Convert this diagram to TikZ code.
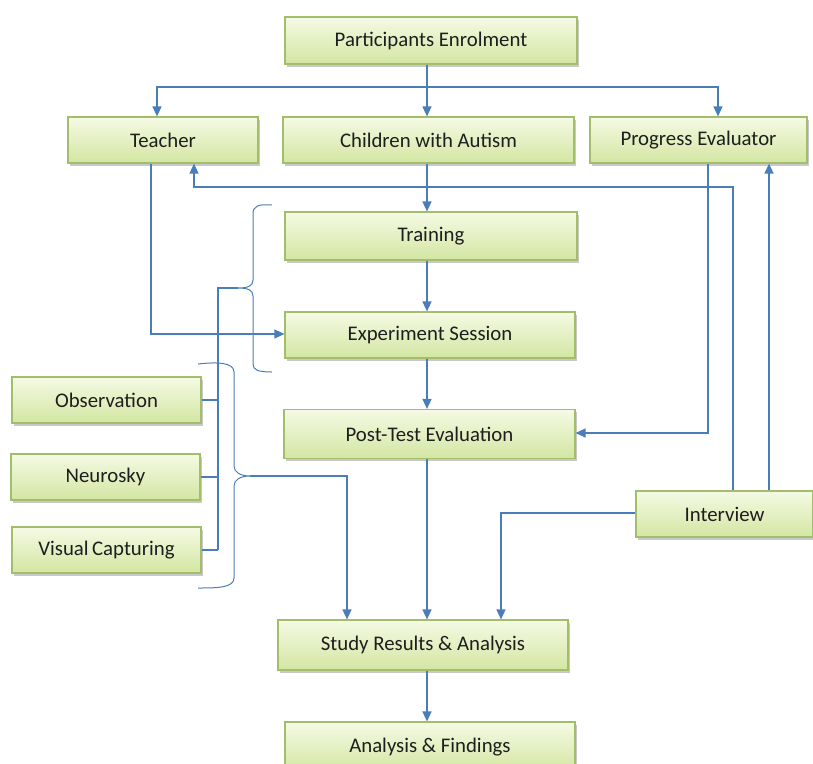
\documentclass[tikz,border=0pt]{standalone}
\usepackage{fontspec}
\setmainfont{Carlito}
\usetikzlibrary{arrows.meta,shadows,calc}
\definecolor{boxtop}{HTML}{F5FAE4}
\definecolor{boxbot}{HTML}{D3E6A2}
\definecolor{boxdraw}{HTML}{A2BE6A}
\definecolor{lineblue}{HTML}{4A7EBB}
\definecolor{txt}{HTML}{1E1E1E}
\begin{document}
\begin{tikzpicture}[x=1pt,y=-1pt,
  bx/.style={draw=boxdraw,line width=1.2pt,top color=boxtop,bottom color=boxbot,
    text=txt,font=\fontsize{20.8}{23}\selectfont,inner sep=0pt,
    drop shadow={shadow xshift=2pt,shadow yshift=-2.5pt,opacity=0.35,fill=black!60}},
  ln/.style={draw=lineblue,line width=1.4pt},
  arr/.style={ln,-{Triangle[length=10pt,width=9pt]}},
  brace/.style={draw=lineblue,line width=1pt}]
\useasboundingbox (0,0) rectangle (813,763);
\fill[white] (0,0) rectangle (813,763);
% boxes
\node[bx,minimum width=292pt,minimum height=47pt] (pe) at (431,40.5) {Participants Enrolment};
\node[bx,minimum width=190pt,minimum height=46pt] (tch) at (163,140) {Teacher};
\node[bx,minimum width=291pt,minimum height=46pt] (ch) at (428.5,140) {Children with Autism};
\node[bx,minimum width=217pt,minimum height=46pt] (pv) at (698.5,140) {Progress Evaluator};
\node[bx,minimum width=292pt,minimum height=48pt] (tr) at (431,236) {Training};
\node[bx,minimum width=290pt,minimum height=46pt] (ex) at (430,335) {Experiment Session};
\node[bx,minimum width=291pt,minimum height=49pt] (pt) at (429.5,434) {Post-Test Evaluation};
\node[bx,minimum width=189pt,minimum height=46pt] (ob) at (106.5,400) {Observation};
\node[bx,minimum width=189pt,minimum height=46pt] (nr) at (105.5,477) {Neurosky};
\node[bx,minimum width=189pt,minimum height=46pt] (vc) at (106.5,550) {Visual\,Capturing};
\node[bx,minimum width=177pt,minimum height=46pt] (iv) at (724.5,514) {Interview};
\node[bx,minimum width=290pt,minimum height=50pt] (sr) at (423,645) {Study Results \& Analysis};
\node[bx,minimum width=290pt,minimum height=50pt] (af) at (430,747) {Analysis \& Findings};
% coordinates
\coordinate (cx) at (427,0);
\coordinate (split) at (427,87);
\coordinate (tin) at (151,334);
\coordinate (pvc) at (708,433);
\coordinate (ivt) at (733,187);
\coordinate (ivl) at (501,513);
\coordinate (vline) at (218,288);
\coordinate (b2) at (347,476);
% central flow
\draw[ln] (pe.south -| cx) -- (split);
\draw[arr] (split) -| ([xshift=-6pt]tch.north);
\draw[arr] (split) -- (ch.north -| cx);
\draw[arr] (split) -| ([xshift=19.5pt]pv.north);
\draw[arr] (ch.south -| cx) -- (tr.north -| cx);
\draw[arr] (tr.south -| cx) -- (ex.north -| cx);
\draw[arr] (ex.south -| cx) -- (pt.north -| cx);
\draw[arr] (pt.south -| cx) -- (sr.north -| cx);
\draw[arr] (sr.south -| cx) -- (af.north -| cx);
% side flows
\draw[arr] (tch.south -| tin) -- (tin) -- (ex.west |- tin);
\draw[arr] (pv.south -| pvc) -- (pvc) -- (pt.east |- pvc);
\draw[arr] (iv.north -| ivt) -- (ivt) -| ([xshift=31pt]tch.south);
\draw[arr] (iv.north -| 769,0) -- (pv.south -| 769,0);
\draw[arr] (iv.west |- ivl) -- (ivl) -- (sr.north -| ivl);
% brace 1 (opening, tip left)
\draw[brace] (272,205) .. controls (258,204) and (253,206) .. (253,214) -- (253,280)
  .. controls (253,286) and (248,288) .. (238,288)
  .. controls (248,288) and (253,290) .. (253,296) -- (253,364)
  .. controls (253,370) and (258,372) .. (272,372);
% brace 2 (closing, tip right)
\draw[brace] (198,364) .. controls (216,362) and (234,362) .. (234,372) -- (234,466)
  .. controls (234,472) and (240,476) .. (250,476)
  .. controls (240,476) and (234,480) .. (234,486) -- (234,578)
  .. controls (234,588) and (216,588) .. (198,588);
% data collection lines
\draw[ln] (238,288) -- (vline) -- (vline |- vc.east);
\draw[ln] (ob.east) -- (ob.east -| vline);
\draw[ln] (nr.east) -- (nr.east -| vline);
\draw[ln] (vc.east) -- (vc.east -| vline);
\draw[arr] (250,476) -- (b2) -- (sr.north -| b2);
\end{tikzpicture}
\end{document}
